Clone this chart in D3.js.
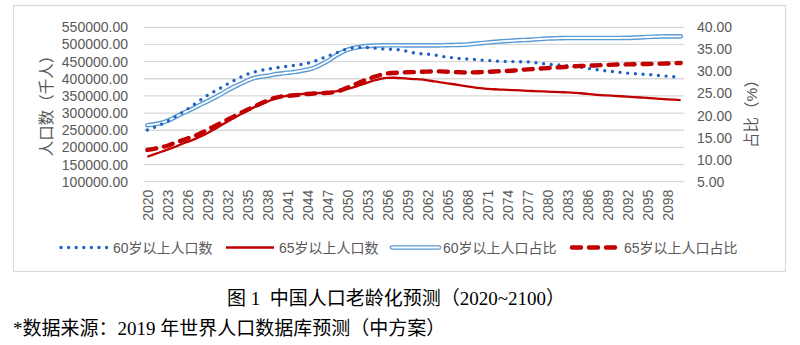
<!DOCTYPE html>
<html><head><meta charset="utf-8">
<script src="https://cdn.jsdelivr.net/npm/d3@7"></script>
<style>
html,body{margin:0;padding:0;background:#fff;}
svg{display:block;}
</style>
</head><body>
<svg id="chart" width="800" height="345"></svg>
<script>
// ---------- data ----------
const years = d3.range(2020, 2101);
const xTickLabels = ["2020","2023","2026","2029","2032","2035","2038","2041","2044","2047","2050","2053","2056","2059","2062","2065","2068","2071","2074","2077","2080","2083","2086","2089","2092","2095","2098"];
const leftTicks = [100000,150000,200000,250000,300000,350000,400000,450000,500000,550000];
const rightTicks = [5,10,15,20,25,30,35,40];
const seriesNames = ["60岁以上人口数","65岁以上人口数","60岁以上人口占比","65岁以上人口占比"];

// 60岁以上人口数 (千人)
const pop60 = [250600,258000,266500,276000,287000,298500,311500,325000,338500,351500,
362500,373500,384500,395000,405000,413000,419500,424000,428000,431000,
434000,436500,439000,441500,445000,450500,457500,465500,473000,480500,
487000,490500,491500,491000,489500,487500,486500,485500,483500,480000,
475500,473000,472000,469500,466000,463000,461000,458500,457500,456500,
454500,453500,452000,451000,450500,450000,449800,449300,447500,445000,
443000,441000,440000,438000,435500,434000,430500,427500,425000,422500,
420500,418500,416500,415000,413600,412800,410500,408800,407500,406000,404500];
// 65岁以上人口数 (千人)
const pop65 = [172800,179500,186500,193500,200500,208500,216000,223500,232000,241500,
252000,263500,275000,286000,296500,307000,316500,325000,333500,341000,
347500,350500,353500,355500,357000,357800,358500,360500,362500,366000,
370500,375500,382000,388500,395000,400000,402500,403000,401800,400500,
399200,398000,395500,392500,389500,386800,384000,381000,378000,375000,
372500,370500,369500,368500,367500,366800,366000,365000,364200,363400,
362600,361800,361000,360200,359000,357800,356000,354000,352400,351300,
350200,349000,347800,346600,345400,344200,342800,341200,340000,339000,338000];
// 60岁以上人口占比 (%)
const share60 = [17.8,18.0,18.3,18.8,19.5,20.3,21.0,21.7,22.5,23.2,
24.0,24.8,25.7,26.5,27.2,27.9,28.5,28.8,29.0,29.3,
29.5,29.7,29.85,30.1,30.4,30.8,31.5,32.3,33.3,34.2,
34.9,35.3,35.6,35.75,35.85,35.9,35.92,35.92,35.92,35.9,
35.9,35.9,35.9,35.9,35.92,35.95,35.98,36.02,36.1,36.25,
36.4,36.55,36.7,36.8,36.9,37.0,37.1,37.15,37.25,37.35,
37.45,37.5,37.55,37.57,37.57,37.57,37.57,37.57,37.57,37.57,
37.57,37.58,37.6,37.65,37.72,37.8,37.87,37.92,37.95,37.95,37.95];
// 65岁以上人口占比 (%)
const share65 = [12.2,12.45,12.8,13.15,13.7,14.25,14.8,15.3,16.0,16.75,
17.55,18.3,19.05,19.8,20.55,21.3,22.0,22.7,23.4,23.95,
24.3,24.45,24.58,24.72,24.88,25.0,25.05,25.15,25.3,25.7,
26.3,26.95,27.6,28.2,28.75,29.2,29.55,29.65,29.72,29.8,
29.85,29.9,29.95,30.02,30.0,29.92,29.85,29.8,29.75,29.78,
29.84,29.9,29.98,30.04,30.1,30.2,30.35,30.45,30.55,30.65,
30.75,30.85,30.95,31.05,31.15,31.22,31.28,31.35,31.42,31.48,
31.54,31.58,31.6,31.63,31.66,31.69,31.72,31.76,31.8,31.86,31.91];

const captionTitle = "图 1  中国人口老龄化预测（2020~2100）";
const captionSource = "*数据来源：2019 年世界人口数据库预测（中方案）";

// ---------- drawing ----------
const svg = d3.select("#chart");
const sansFont = "'Liberation Sans', Arial, 'Noto Sans CJK SC', sans-serif";
const serifFont = "'Liberation Serif', 'DejaVu Serif', 'Noto Sans CJK SC', serif";
const grey = "#595959";
const blueDot = "#1f62c4";
const red = "#c00000";
const blueLight = "#5b9bd5";

svg.append("rect").attr("x",13.5).attr("y",5.5).attr("width",772).attr("height",266)
  .attr("fill","#fff").attr("stroke","#d9d9d9").attr("stroke-width",1.2);

const plot = {left:144, right:684, top:27.3, bottom:181.7};
const x = d3.scaleBand().domain(years).range([plot.left, plot.right]);
const xc = d => x(d) + x.bandwidth()/2;
const yL = d3.scaleLinear().domain([100000,550000]).range([plot.bottom, plot.top]);
const yR = d3.scaleLinear().domain([5,40]).range([plot.bottom, plot.top]);

// gridlines
svg.append("g").selectAll("line").data(leftTicks).join("line")
  .attr("x1",plot.left).attr("x2",plot.right)
  .attr("y1",d=>yL(d)).attr("y2",d=>yL(d))
  .attr("stroke","#d9d9d9").attr("stroke-width",1.3);

// left axis
const axL = d3.axisLeft(yL).tickValues(leftTicks).tickFormat(d=>d.toFixed(2)).tickSize(0).tickPadding(0);
const gL = svg.append("g").attr("transform",`translate(${128},0)`).call(axL);
gL.select(".domain").remove();
gL.selectAll("text").attr("font-family",sansFont).attr("font-size",14).attr("fill",grey);

// right axis
const axR = d3.axisRight(yR).tickValues(rightTicks).tickFormat(d=>d.toFixed(2)).tickSize(0).tickPadding(0);
const gR = svg.append("g").attr("transform",`translate(${697},0)`).call(axR);
gR.select(".domain").remove();
gR.selectAll("text").attr("font-family",sansFont).attr("font-size",14).attr("fill",grey);

// x axis labels
const axX = d3.axisBottom(x).tickValues(xTickLabels.map(Number)).tickSize(0).tickPadding(0);
const gX = svg.append("g").attr("transform",`translate(0,${plot.bottom})`).call(axX);
gX.select(".domain").remove();
gX.selectAll("text")
  .attr("font-family",sansFont).attr("font-size",14).attr("fill",grey)
  .attr("transform","rotate(-90)")
  .attr("x",-8).attr("y",1).attr("dy","0.35em")
  .style("text-anchor","end");

// axis titles
svg.append("text").attr("transform","translate(46,102) rotate(-90)")
  .attr("text-anchor","middle").attr("dominant-baseline","central")
  .attr("font-family",sansFont).attr("font-size",15.5).attr("fill",grey)
  .text("人口数（千人）");
svg.append("text").attr("transform","translate(751,110) rotate(-90)")
  .attr("text-anchor","middle").attr("dominant-baseline","central")
  .attr("font-family",sansFont).attr("font-size",15.5).attr("fill",grey)
  .text("占比（%）");

// lines
const lineL = d3.line().x((d,i)=>xc(years[i])).y(d=>yL(d)).curve(d3.curveMonotoneX);
const lineR = d3.line().x((d,i)=>xc(years[i])).y(d=>yR(d)).curve(d3.curveMonotoneX);

// 60+ share: double line
svg.append("path").attr("d",lineR(share60)).attr("fill","none")
  .attr("stroke",blueLight).attr("stroke-width",4.6).attr("stroke-linejoin","round").attr("stroke-linecap","round");
svg.append("path").attr("d",lineR(share60)).attr("fill","none")
  .attr("stroke","#fff").attr("stroke-width",1.8).attr("stroke-linejoin","round").attr("stroke-linecap","round");

// 65+ count: solid red
svg.append("path").attr("d",lineL(pop65)).attr("fill","none")
  .attr("stroke",red).attr("stroke-width",2.3).attr("stroke-linejoin","round");

// 60+ count: dotted blue
svg.append("path").attr("d",lineL(pop60)).attr("fill","none")
  .attr("stroke",blueDot).attr("stroke-width",3.4).attr("stroke-linecap","round")
  .attr("stroke-dasharray","0 7.7");

// 65+ share: dashed red
svg.append("path").attr("d",lineR(share65)).attr("fill","none")
  .attr("stroke",red).attr("stroke-width",4.4).attr("stroke-linecap","round")
  .attr("stroke-dasharray","9 8");

// legend
const ly = 247.5;
const legend = svg.append("g");
// dotted
legend.append("line").attr("x1",61).attr("x2",107).attr("y1",ly).attr("y2",ly)
  .attr("stroke",blueDot).attr("stroke-width",3.4).attr("stroke-linecap","round").attr("stroke-dasharray","0 7.6");
// solid
legend.append("line").attr("x1",226).attr("x2",274).attr("y1",ly).attr("y2",ly)
  .attr("stroke",red).attr("stroke-width",2.3);
// double
legend.append("line").attr("x1",392).attr("x2",439).attr("y1",ly).attr("y2",ly)
  .attr("stroke",blueLight).attr("stroke-width",4.6).attr("stroke-linecap","round");
legend.append("line").attr("x1",392).attr("x2",439).attr("y1",ly).attr("y2",ly)
  .attr("stroke","#fff").attr("stroke-width",1.8).attr("stroke-linecap","round");
// dashed
legend.append("line").attr("x1",572).attr("x2",615).attr("y1",ly).attr("y2",ly)
  .attr("stroke",red).attr("stroke-width",4.4).attr("stroke-linecap","round").attr("stroke-dasharray","9 8");

const legendX = [113,279,443,624];
legend.selectAll("text.lg").data(seriesNames).join("text").attr("class","lg")
  .attr("x",(d,i)=>legendX[i]).attr("y",ly).attr("dominant-baseline","central")
  .attr("font-family",sansFont).attr("font-size",14).attr("fill",grey)
  .text(d=>d);

// captions
svg.append("text").attr("x",396).attr("y",305).attr("text-anchor","middle")
  .attr("font-family",serifFont).attr("font-size",19).attr("fill","#000")
  .attr("xml:space","preserve").style("white-space","pre")
  .text(captionTitle);
svg.append("text").attr("x",13).attr("y",335)
  .attr("font-family",serifFont).attr("font-size",19).attr("fill","#000")
  .text(captionSource);
</script>
</body></html>
